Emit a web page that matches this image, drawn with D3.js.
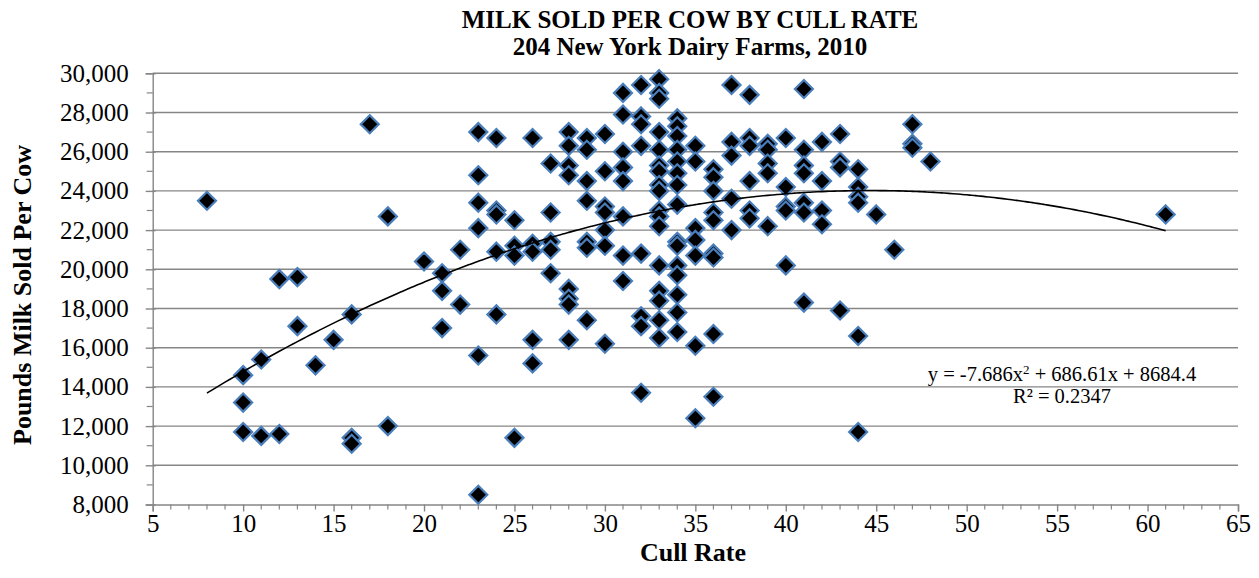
<!DOCTYPE html>
<html><head><meta charset="utf-8">
<script src="https://cdn.jsdelivr.net/npm/d3@7/dist/d3.min.js"></script>
<style>body{margin:0;background:#fff}svg{display:block}text{font-family:"Liberation Serif","Times New Roman",serif}</style>
</head><body><svg id="c" width="1259" height="578"></svg>
<script>
const titleLines = ["MILK SOLD PER COW BY CULL RATE", "204 New York Dairy Farms, 2010"];
const xTitle = "Cull Rate";
const yTitle = "Pounds Milk Sold Per Cow";
const xTicks = [5,10,15,20,25,30,35,40,45,50,55,60,65];
const yTicks = [8000,10000,12000,14000,16000,18000,20000,22000,24000,26000,28000,30000];
const trendCoef = [-7.686, 686.61, 8684.4];
const trendText = ["y = -7.686x", "2", " + 686.61x + 8684.4"];
const r2Text = "R² = 0.2347";
const cullRate = [
 8,
 10,10,10,
 11,11,
 12,12,
 13,13,
 14,15,
 16,16,16,
 17,
 18,18,
 20,
 21,21,21,
 22,22,
 23,23,23,23,23,23,
 24,24,24,24,24,
 25,25,25,25,
 26,26,26,26,26,
 27,27,27,27,27,
 28,28,28,28,28,28,28,28,
 29,29,29,29,29,29,29,
 30,30,30,30,30,30,30,
 31,31,31,31,31,31,31,31,
 32,32,32,32,32,32,32,32,
 33,33,33,33,33,33,33,33,33,33,33,33,33,33,33,33,33,
 34,34,34,34,34,34,34,34,34,34,34,34,34,34,34,
 35,35,35,35,35,35,35,
 36,36,36,36,36,36,36,36,36,
 37,37,37,37,37,
 38,38,38,38,38,38,
 39,39,39,39,39,
 40,40,40,40,40,
 41,41,41,41,41,41,41,
 42,42,42,42,
 43,43,43,43,
 44,44,44,44,44,44,
 45,46,
 47,47,47,
 48,
 61
];
const milkSold = [
 23500,
 14600,13200,11700,
 15400,11500,
 19500,11600,
 19600,17100,
 15100,16400,
 17700,11400,11100,
 27400,
 22700,12000,
 20400,
 19800,18900,17000,
 21000,18200,
 27000,24800,23400,22100,15600,8500,
 26700,23000,22800,20900,17700,
 22500,21200,20700,11400,
 26700,21300,20900,16400,15200,
 25400,22900,21400,21000,19800,
 27000,26300,25300,24800,19000,18500,18200,16400,
 26700,26100,24500,23500,21400,21100,17400,
 26900,25000,23200,22900,22000,21200,16200,
 29000,27900,26000,25200,24500,22700,20700,19400,
 29400,27800,27400,26300,20800,17600,17100,13700,
 29700,29000,28700,27000,26100,25300,25000,24300,24000,23000,22700,22200,20200,18900,18400,17400,16500,
 27700,27300,26800,26100,25500,24900,24300,23300,21400,21200,20200,19700,18700,17800,16800,
 26300,25500,22100,21500,20700,16100,12400,
 25100,24700,24000,22900,22500,20800,20600,16700,13500,
 29400,26500,25800,23600,22000,
 28900,26700,26300,24500,23000,22600,
 26400,26100,25400,24900,22200,
 26700,24200,23200,23000,20200,
 29200,26100,25300,24900,23400,22900,18300,
 26500,24500,23000,22300,
 26900,25500,25200,17900,
 25100,24200,23700,23400,16600,11700,
 22800,21000,
 27400,26400,26200,
 25500,
 22800
];

const svg = d3.select("#c");
const L = 152.7, R = 1238, T = 73.3, B = 504.5;
const x = d3.scaleLinear().domain([5,65]).range([L,R]);
const y = d3.scaleLinear().domain([8000,30000]).range([B,T]);
const gray = "#868686";
const serif = '"Liberation Serif","Times New Roman",serif';

// gridlines
svg.append("g").selectAll("line").data(yTicks.slice(1)).join("line")
  .attr("x1", L).attr("x2", R).attr("y1", d=>y(d)).attr("y2", d=>y(d))
  .attr("stroke", gray).attr("stroke-width", 1.4);

// y axis
const yMinor = d3.range(9000, 30000, 2000);
const yAx = svg.append("g").attr("transform", `translate(${L},0)`)
  .call(d3.axisLeft(y).tickValues(yTicks).tickFormat(d3.format(",")).tickSize(7).tickPadding(17));
yAx.select(".domain").attr("stroke", gray).attr("stroke-width", 1.4);
yAx.selectAll(".tick line").attr("stroke", gray).attr("stroke-width", 1.4).attr("x2", -7).attr("x1", 3);
yAx.selectAll("text").attr("font-size", 25).attr("fill", "#000").style("font-family", serif);
svg.append("g").selectAll("line").data(yMinor).join("line")
  .attr("x1", L-6).attr("x2", L).attr("y1", d=>y(d)).attr("y2", d=>y(d))
  .attr("stroke", gray).attr("stroke-width", 1.2);

// x axis
const xMinor = d3.range(6, 65, 1).filter(v => v % 5 !== 0);
const xAx = svg.append("g").attr("transform", `translate(0,${B})`)
  .call(d3.axisBottom(x).tickValues(xTicks).tickFormat(d3.format("d")).tickSize(7).tickPadding(3));
xAx.select(".domain").attr("stroke", gray).attr("stroke-width", 1.4);
xAx.selectAll(".tick line").attr("stroke", gray).attr("stroke-width", 1.4);
xAx.selectAll("text").attr("font-size", 25).attr("fill", "#000").style("font-family", serif);
svg.append("g").selectAll("line").data(xMinor).join("line")
  .attr("x1", d=>x(d)).attr("x2", d=>x(d)).attr("y1", B).attr("y2", B+5)
  .attr("stroke", gray).attr("stroke-width", 1.2);

// points
const pts = cullRate.map((c,i)=>({c, m: milkSold[i]}));
const dia = 9;
svg.append("g").selectAll("path").data(pts).join("path")
  .attr("d", d => { const cx=x(d.c), cy=y(d.m); return `M${cx},${cy-dia}L${cx+dia},${cy}L${cx},${cy+dia}L${cx-dia},${cy}Z`; })
  .attr("fill", "#000").attr("stroke", "#4a7ebb").attr("stroke-width", 2.2);

// trendline
const xmin = d3.min(cullRate), xmax = d3.max(cullRate);
const tr = d3.range(xmin, xmax + 0.001, 0.25).map(v => [v, trendCoef[0]*v*v + trendCoef[1]*v + trendCoef[2]]);
svg.append("path").datum(tr)
  .attr("d", d3.line().x(d=>x(d[0])).y(d=>y(d[1])).curve(d3.curveMonotoneX))
  .attr("fill", "none").attr("stroke", "#000").attr("stroke-width", 1.6);

// equation
const eq = svg.append("text").attr("x", 1062).attr("y", 381).attr("text-anchor", "middle").attr("font-size", 20.5);
eq.append("tspan").text(trendText[0]);
eq.append("tspan").text(trendText[1]).attr("baseline-shift", "super").attr("font-size", 13);
eq.append("tspan").text(trendText[2]);
svg.append("text").attr("x", 1062).attr("y", 403).attr("text-anchor", "middle").attr("font-size", 20.5).text(r2Text);

// titles
svg.append("text").attr("x", 690).attr("y", 28).attr("text-anchor", "middle").attr("font-size", 25).attr("font-weight", "bold").text(titleLines[0]);
svg.append("text").attr("x", 690).attr("y", 55).attr("text-anchor", "middle").attr("font-size", 25).attr("font-weight", "bold").text(titleLines[1]);
svg.append("text").attr("x", 693).attr("y", 561).attr("text-anchor", "middle").attr("font-size", 26).attr("font-weight", "bold").text(xTitle);
svg.append("text").attr("transform", "translate(31,295) rotate(-90)").attr("text-anchor", "middle").attr("font-size", 26).attr("font-weight", "bold").text(yTitle);
</script></body></html>
